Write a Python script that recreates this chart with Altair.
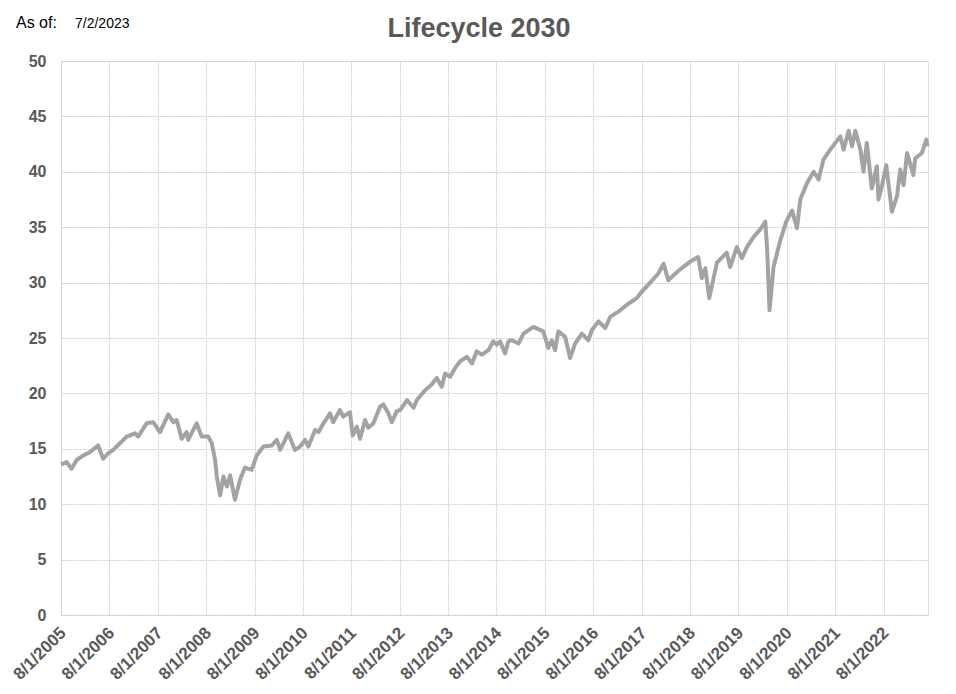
import altair as alt
import pandas as pd

dates = [
    "2005-08-01","2005-09-13","2005-10-20","2005-11-28","2006-01-17","2006-03-07","2006-05-08","2006-06-15","2006-07-23","2006-08-30",
    "2006-10-20","2006-12-10","2007-02-11","2007-03-06","2007-05-09","2007-06-28","2007-08-18","2007-10-20","2007-11-27","2007-12-22",
    "2008-01-29","2008-03-06","2008-03-18","2008-05-21","2008-06-28","2008-08-17","2008-09-12","2008-10-07","2008-10-20","2008-11-14",
    "2008-12-09","2009-01-04","2009-01-29","2009-03-06","2009-04-13","2009-05-20","2009-07-10","2009-08-17","2009-10-06","2009-12-09",
    "2010-01-16","2010-02-10","2010-04-12","2010-06-02","2010-07-10","2010-08-17","2010-09-11","2010-11-01","2010-11-26","2011-01-03",
    "2011-02-22","2011-03-17","2011-05-07","2011-06-01","2011-07-22","2011-08-12","2011-09-12","2011-10-06","2011-11-13","2011-12-08",
    "2012-01-15","2012-03-05","2012-03-30","2012-05-07","2012-06-02","2012-07-09","2012-08-04","2012-09-24","2012-11-13","2012-12-08",
    "2013-02-10","2013-03-30","2013-05-07","2013-06-14","2013-07-09","2013-08-16","2013-09-23","2013-10-31","2013-12-21","2014-01-28",
    "2014-03-05","2014-04-12","2014-06-01","2014-07-08","2014-08-03","2014-08-28","2014-10-05","2014-10-30","2014-11-25","2015-01-14",
    "2015-02-21","2015-05-06","2015-07-20","2015-08-27","2015-09-22","2015-10-17","2015-11-11","2016-01-01","2016-02-08","2016-03-16",
    "2016-05-06","2016-06-25","2016-07-20","2016-09-09","2016-10-30","2016-12-06","2017-02-20","2017-04-11","2017-06-25","2017-07-20",
    "2017-10-04","2017-12-03","2018-01-13","2018-02-18","2018-04-10","2018-06-09","2018-08-02","2018-10-01","2018-10-29","2018-11-24",
    "2018-12-24","2019-02-20","2019-05-05","2019-05-30","2019-07-20","2019-08-27","2019-10-04","2019-11-23","2020-01-13","2020-02-20",
    "2020-03-05","2020-03-23","2020-04-22","2020-06-12","2020-07-27","2020-09-09","2020-10-16","2020-11-10","2020-12-31","2021-02-19",
    "2021-03-28","2021-05-04","2021-06-24","2021-09-08","2021-10-03","2021-11-10","2021-12-05","2021-12-30","2022-02-07","2022-03-02",
    "2022-03-27","2022-05-04","2022-06-11","2022-06-23","2022-07-19","2022-08-21","2022-10-03","2022-11-10","2022-12-05","2022-12-30",
    "2023-01-25","2023-03-14","2023-03-27","2023-05-17","2023-06-19","2023-06-29",
]

values = [
    13.6,13.8,13.2,14.0,14.4,14.7,15.3,14.1,14.6,14.9,
    15.5,16.1,16.4,16.1,17.3,17.4,16.5,18.1,17.4,17.6,
    15.9,16.5,15.8,17.3,16.1,16.1,15.5,14.0,12.5,10.8,
    12.5,11.6,12.6,10.4,12.2,13.3,13.1,14.4,15.2,15.3,
    15.8,14.9,16.4,14.9,15.2,15.8,15.2,16.7,16.5,17.3,
    18.2,17.4,18.5,17.9,18.3,16.2,17.0,15.9,17.6,16.9,
    17.3,18.8,19.0,18.2,17.4,18.4,18.5,19.4,18.7,19.4,
    20.3,20.8,21.4,20.6,21.8,21.5,22.3,22.9,23.3,22.7,
    23.8,23.5,23.9,24.7,24.4,24.7,23.6,24.7,24.8,24.5,
    25.4,26.0,25.6,24.1,24.8,23.9,25.6,25.1,23.2,24.5,
    25.4,24.8,25.7,26.5,25.9,26.9,27.5,28.0,28.6,29.0,
    30.0,30.8,31.7,30.2,30.8,31.4,31.9,32.3,30.4,31.3,
    28.6,31.8,32.7,31.4,33.2,32.2,33.2,34.1,34.8,35.5,
    33.0,27.5,31.4,33.8,35.5,36.5,34.9,37.5,39.0,40.0,
    39.3,41.1,42.0,43.2,42.0,43.7,42.3,43.7,42.0,40.0,
    42.6,38.5,40.5,37.5,38.7,40.6,36.4,37.8,40.2,38.8,
    41.7,39.7,41.2,41.7,42.9,42.3,
]

tick_years = list(range(2005, 2023))
y_ticks = [0, 5, 10, 15, 20, 25, 30, 35, 40, 45, 50]
title_text = "Lifecycle 2030"
asof_label = "As of:"
asof_date = "7/2/2023"

GRAY_TEXT = "#595959"
FONT = "Liberation Sans"

df = pd.DataFrame({"date": dates, "value": values})

x_scale = alt.Scale(
    type="utc",
    domain=[alt.DateTime(year=2005, month=8, date=1, utc=True),
            alt.DateTime(year=2023, month=7, date=2, utc=True)],
)
x_values = [alt.DateTime(year=y, month=8, date=1, utc=True) for y in tick_years]

line = alt.Chart(df).mark_line(color="#a3a3a3", strokeWidth=4, strokeJoin="round").encode(
    x=alt.X("date:T", scale=x_scale, title=None,
            axis=alt.Axis(values=x_values,
                          labelExpr="(utcmonth(datum.value)+1) + '/' + utcdate(datum.value) + '/' + utcyear(datum.value)",
                          labelAngle=-45, labelAlign="right", labelBaseline="middle",
                          labelPadding=15, labelOffset=2, ticks=False, domain=False,
                          grid=True, gridColor="#d0d0d0", gridDash=[2, 1],
                          labelFont=FONT, labelFontSize=17, labelFontWeight="bold",
                          labelColor=GRAY_TEXT, labelOverlap=False)),
    y=alt.Y("value:Q", scale=alt.Scale(domain=[0, 50], nice=False), title=None,
            axis=alt.Axis(values=y_ticks, ticks=False, domain=False, labelPadding=15,
                          grid=True, gridColor="#d0d0d0", gridDash=[2, 1],
                          labelFont=FONT, labelFontSize=16, labelFontWeight="bold",
                          labelColor=GRAY_TEXT)),
)

text_df = pd.DataFrame({"t": [title_text]})
title = alt.Chart(text_df).mark_text(
    font=FONT, fontSize=27, fontWeight="bold", color=GRAY_TEXT, align="center", baseline="alphabetic"
).encode(text="t:N", x=alt.value(418), y=alt.value(-24))

asof = alt.Chart(pd.DataFrame({"t": [asof_label]})).mark_text(
    font=FONT, fontSize=16, color="#000000", align="left", baseline="alphabetic"
).encode(text="t:N", x=alt.value(-45), y=alt.value(-33.5))

asof_d = alt.Chart(pd.DataFrame({"t": [asof_date]})).mark_text(
    font=FONT, fontSize=14, color="#000000", align="left", baseline="alphabetic"
).encode(text="t:N", x=alt.value(14), y=alt.value(-33.5))

chart = alt.layer(line, title, asof, asof_d).properties(
    width=867, height=554,
    padding={"left": 53, "top": 53, "right": 20, "bottom": 71},
    autosize=alt.AutoSizeParams(type="none"),
).configure_view(stroke=None).configure(background="white")

chart.save("out.html", embed_options={"renderer": "svg", "actions": False})
